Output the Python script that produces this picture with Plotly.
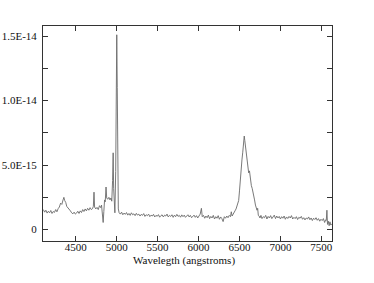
import plotly.graph_objects as go
import numpy as np

# wavelength (angstroms) and flux (units of 1e-15)
wavelength = [
    4104, 4120, 4135, 4150, 4165, 4180, 4195, 4210, 4225, 4240, 4255, 4270, 4285, 4300,
    4315, 4330, 4345, 4355, 4365, 4378, 4390, 4405, 4420, 4435, 4450, 4465, 4480, 4495,
    4510, 4525, 4540, 4555, 4570, 4585, 4600, 4615, 4630, 4645, 4660, 4675, 4690, 4705,
    4715, 4723, 4730, 4745, 4760, 4775, 4790, 4805, 4815, 4825, 4835, 4843, 4852, 4860,
    4870, 4878, 4890, 4905, 4918, 4930, 4940, 4950, 4957, 4963, 4970, 4978, 4988, 4995,
    5001, 5007, 5014, 5020, 5030, 5045, 5060, 5075, 5090, 5105, 5120, 5135, 5150, 5165,
    5180, 5195, 5210, 5225, 5240, 5255, 5270, 5285, 5300, 5315, 5330, 5345, 5360, 5375,
    5390, 5405, 5420, 5435, 5450, 5465, 5480, 5495, 5510, 5525, 5540, 5555, 5570, 5585,
    5600, 5615, 5630, 5645, 5660, 5675, 5690, 5705, 5720, 5735, 5750, 5765, 5780, 5795,
    5810, 5825, 5840, 5855, 5870, 5885, 5900, 5915, 5930, 5945, 5960, 5975, 5990, 6005,
    6020, 6035, 6045, 6060, 6075, 6090, 6105, 6120, 6135, 6150, 6165, 6180, 6195, 6210,
    6225, 6240, 6255, 6270, 6285, 6300, 6315, 6330, 6345, 6360, 6375, 6390, 6400, 6410,
    6420, 6432, 6445, 6458, 6470, 6480, 6490, 6500, 6510, 6520, 6530, 6540, 6550, 6558,
    6565, 6575, 6585, 6595, 6605, 6612, 6622, 6633, 6645, 6655, 6665, 6673, 6684, 6695,
    6705, 6714, 6722, 6730, 6740, 6750, 6762, 6775, 6790, 6805, 6820, 6835, 6850, 6865,
    6880, 6895, 6910, 6925, 6940, 6955, 6970, 6985, 7000, 7015, 7030, 7045, 7060, 7075,
    7090, 7105, 7120, 7135, 7150, 7165, 7180, 7195, 7210, 7225, 7240, 7255, 7270, 7285,
    7300, 7315, 7330, 7345, 7360, 7375, 7390, 7405, 7420, 7435, 7450, 7465, 7480, 7495,
    7510, 7525, 7540, 7552, 7560, 7568, 7575, 7585, 7595, 7605, 7615, 7628,
]
flux_e15 = [
    1.55, 1.35, 1.50, 1.28, 1.42, 1.30, 1.48, 1.25, 1.40, 1.33, 1.55, 1.38, 1.62, 1.75,
    2.05, 1.95, 2.30, 2.50, 2.25, 2.10, 1.80, 1.70, 1.55, 1.45, 1.30, 1.22, 1.35, 1.20,
    1.28, 1.42, 1.25, 1.45, 1.32, 1.55, 1.40, 1.60, 1.45, 1.65, 1.50, 1.70, 1.55, 1.62,
    1.80, 2.90, 1.75, 1.60, 1.72, 1.55, 1.85, 1.70, 1.90, 1.20, 0.55, 1.40, 2.30, 2.15,
    3.30, 2.45, 2.35, 2.50, 2.30, 2.45, 2.20, 3.80, 5.95, 3.20, 1.40, 1.30, 4.50, 12.5,
    15.1, 11.0, 4.00, 1.60, 1.30, 1.20, 1.35, 1.15, 1.28, 1.18, 1.32, 1.12, 1.25, 1.10,
    1.30, 1.15, 1.22, 1.08, 1.26, 1.12, 1.20, 1.05, 1.18, 1.10, 1.24, 1.02, 1.15, 1.08,
    1.20, 1.00, 1.12, 1.05, 1.18, 0.98, 1.10, 1.03, 1.16, 0.96, 1.08, 1.14, 0.98, 1.12,
    1.05, 1.20, 0.98, 1.10, 1.02, 1.15, 0.95, 1.12, 1.00, 1.18, 1.02, 1.10, 0.96, 1.14,
    1.00, 1.12, 0.95, 1.08, 1.15, 0.98, 1.10, 0.92, 1.06, 1.12, 0.95, 1.08, 0.90, 1.05,
    1.20, 1.65, 1.00, 1.10, 0.88, 1.05, 0.92, 1.12, 0.85, 1.02, 0.90, 1.10, 0.82, 1.00,
    0.88, 1.08, 0.80, 0.98, 0.85, 0.62, 1.00, 0.88, 1.05, 0.92, 1.10, 1.00, 1.38, 1.05,
    1.20, 1.30, 1.45, 1.60, 1.85, 2.00, 2.25, 3.00, 4.10, 4.80, 5.40, 6.00, 6.80, 7.25,
    6.90, 6.30, 5.60, 5.20, 4.75, 4.40, 4.55, 3.90, 3.40, 3.20, 2.95, 2.80, 2.30, 1.90,
    1.60, 1.50, 1.65, 1.10, 1.05, 0.90, 1.10, 0.85, 1.00, 0.92, 1.10, 0.82, 1.02, 0.90,
    1.08, 0.85, 0.98, 1.12, 0.85, 1.05, 0.90, 1.02, 0.82, 1.00, 0.88, 1.05, 0.80, 0.98,
    0.86, 1.02, 0.90, 1.08, 0.82, 0.95, 0.85, 1.00, 0.78, 0.95, 0.88, 1.02, 0.80, 0.92,
    0.75, 0.90, 0.82, 0.98, 0.76, 0.90, 0.70, 0.88, 0.78, 0.92, 0.72, 0.85, 0.65, 0.80,
    0.70, 0.85, 0.55, 0.75, 0.70, 1.50, 0.40, 0.65, 0.30, 0.60, 0.35, 0.45,
]

xtick_vals = [4500, 5000, 5500, 6000, 6500, 7000, 7500]
ytick_vals = [0, 5e-15, 1e-14, 1.5e-14]
ytick_text = ['0', '5.0E-15', '1.0E-14', '1.5E-14']
yminor_vals = [2.5e-15, 7.5e-15, 1.25e-14]
x_title = 'Wavelegth (angstroms)'

flux = np.array(flux_e15) * 1e-15

fig = go.Figure()
fig.add_trace(go.Scatter(
    x=wavelength,
    y=flux,
    mode='lines',
    line=dict(color='#6a6a6a', width=0.9),
    showlegend=False,
))

axis_style = dict(
    showline=True,
    linecolor='#333333',
    linewidth=1,
    mirror='allticks',
    ticks='inside',
    ticklen=5,
    tickcolor='#333333',
    showgrid=False,
    zeroline=False,
    automargin=False,
)

fig.update_xaxes(
    range=[4100, 7630],
    tickmode='array',
    tickvals=xtick_vals,
    ticklabelstandoff=-4,
    **axis_style
)
fig.update_yaxes(
    range=[-0.885e-15, 15.78e-15],
    tickmode='array',
    tickvals=ytick_vals,
    ticktext=ytick_text,
    ticklabelstandoff=3,
    minor=dict(tickmode='array', tickvals=yminor_vals, ticks='inside',
               ticklen=5, tickcolor='#333333'),
    **axis_style
)

# axis title as an annotation so it sits closer to the tick labels
fig.add_annotation(
    text=x_title, xref='paper', yref='paper',
    x=0.488, y=-0.089, xanchor='center', yanchor='middle',
    showarrow=False, font=dict(size=11),
)

fig.update_layout(
    width=374,
    height=283,
    margin=dict(l=43, r=42, t=26, b=42),
    paper_bgcolor='white',
    plot_bgcolor='white',
    font=dict(family='Liberation Serif', size=11, color='#111111'),
)

# drop the page's default body margin so the chart sits at the window's corner
fig.write_html("out.html", config={'displayModeBar': False},
               post_script="document.body.style.margin = '0px';")
